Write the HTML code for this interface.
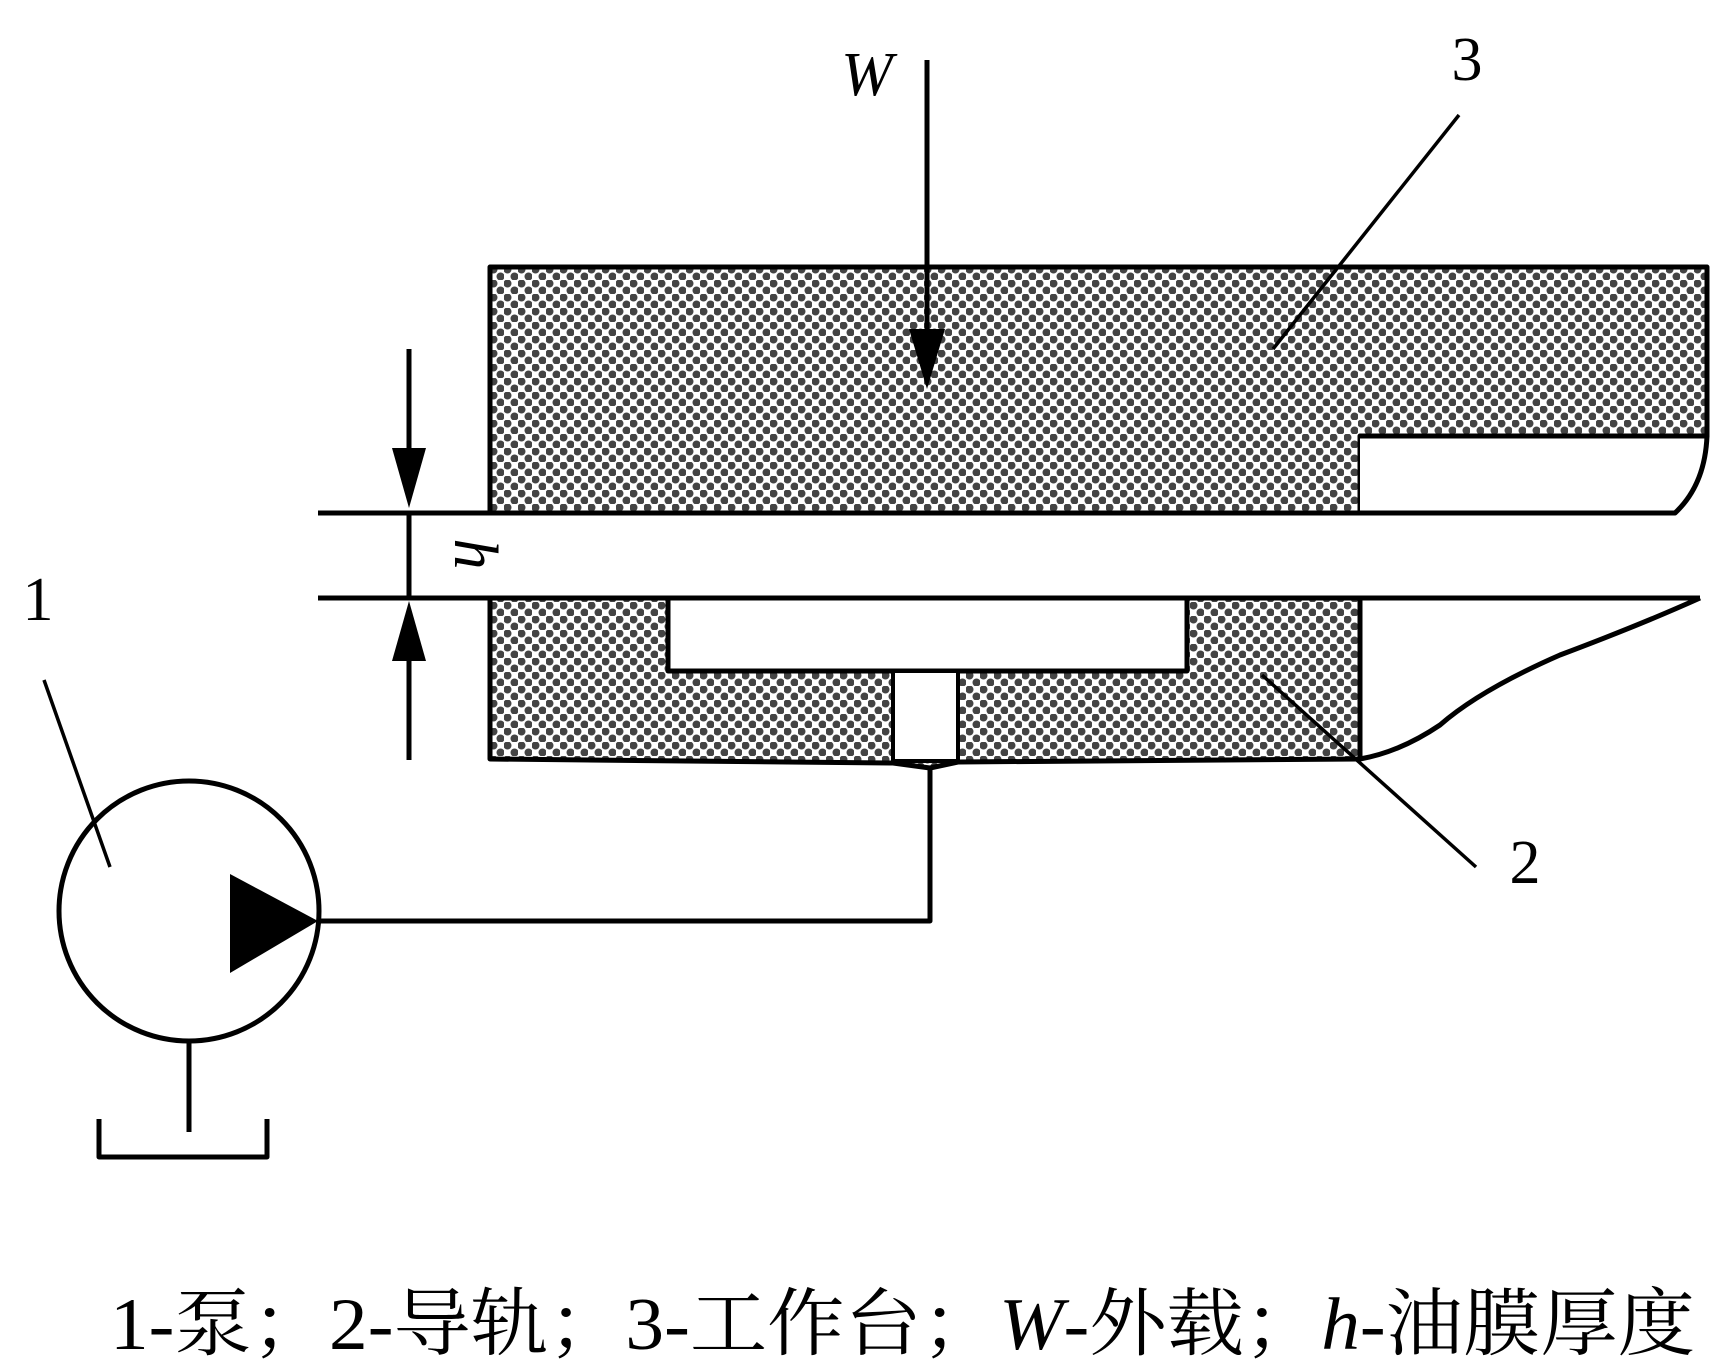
<!DOCTYPE html>
<html><head><meta charset="utf-8"><style>
html,body{margin:0;padding:0;background:#fff;}
svg{display:block;}
</style></head><body>
<svg width="1716" height="1368" viewBox="0 0 1716 1368" xmlns="http://www.w3.org/2000/svg">
<defs>
<pattern id="chk" width="14" height="14" patternUnits="userSpaceOnUse">
<rect width="14" height="14" fill="#fff"/>
<circle cx="3.5" cy="3.5" r="4" fill="#444"/>
<circle cx="10.5" cy="10.5" r="4" fill="#444"/>
</pattern>
</defs>
<g stroke="#000" stroke-width="5" fill="none" stroke-linejoin="round">
<path d="M490,267 L1707,267 L1707,436 L1360,436 L1360,513 L490,513 Z" fill="url(#chk)"/>
<path d="M1360,436 L1707,436 Q1705,485 1675,513 L1360,513" fill="#fff"/>
<line x1="318" y1="513" x2="1675" y2="513"/>
<line x1="318" y1="598" x2="1700" y2="598"/>
<path d="M490,598 L1360,598 L1360,759 L958,762 L930,768 L893,763 L490,759 Z" fill="url(#chk)"/>
<rect x="668" y="598" width="519" height="73" fill="#fff"/>
<rect x="893" y="671" width="65" height="90" fill="#fff" stroke-width="4"/>
<path d="M1360,598 L1360,759"/>
<path d="M1700,598 Q1640,625 1560,655 Q1480,690 1440,725 Q1400,752 1360,759"/>
<line x1="1262" y1="675" x2="1476" y2="867" stroke-width="3.5"/>
<line x1="1273" y1="349" x2="1459" y2="115" stroke-width="3.5"/>
<line x1="44" y1="680" x2="110" y2="867" stroke-width="3.5"/>
<line x1="927" y1="60" x2="927" y2="340"/>
<line x1="409" y1="349" x2="409" y2="470"/>
<line x1="409" y1="513" x2="409" y2="598"/>
<line x1="409" y1="640" x2="409" y2="760"/>
<circle cx="189" cy="911" r="130"/>
<polyline points="318,921 930,921 930,768"/>
<line x1="189" y1="1042" x2="189" y2="1132"/>
<polyline points="99,1119 99,1157 267,1157 267,1119"/>
</g>
<g fill="#000">
<polygon points="909,329 945,329 927,389"/>
<polygon points="392,448 426,448 409,508"/>
<polygon points="392,661 426,661 409,601"/>
<polygon points="230,874 230,973 318,921"/>
</g>
<g font-family="'Liberation Serif','Noto Serif CJK SC',serif" fill="#000">
<text x="867" y="95" font-size="62" font-style="italic" text-anchor="middle">W</text>
<text x="1467" y="80" font-size="62" text-anchor="middle">3</text>
<text x="1525" y="883" font-size="62" text-anchor="middle">2</text>
<text x="38" y="620" font-size="62" text-anchor="middle">1</text>
<text x="0" y="0" font-size="62" font-style="italic" text-anchor="middle" transform="translate(455,554) rotate(90)">h</text>
<text x="110" y="1349" font-size="74" textLength="1585" lengthAdjust="spacingAndGlyphs">1-泵；2-导轨；3-工作台；<tspan font-style="italic">W</tspan>-外载；<tspan font-style="italic">h</tspan>-油膜厚度</text>
</g>
</svg>
</body></html>
